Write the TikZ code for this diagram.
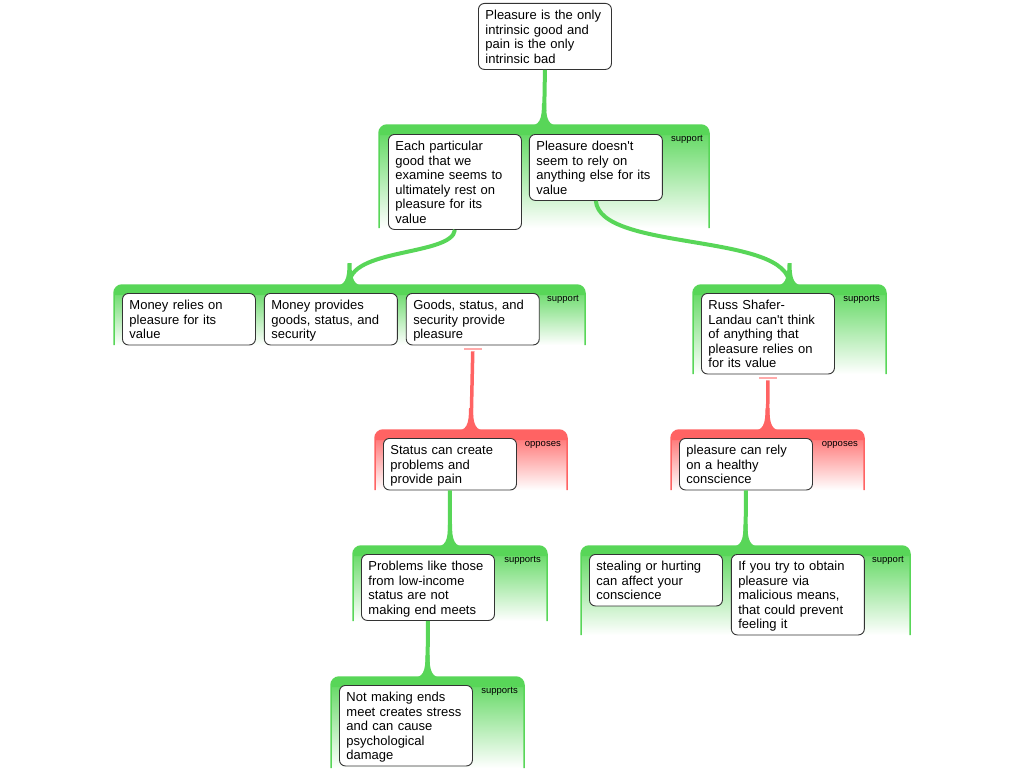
\documentclass[tikz,border=0pt]{standalone}
\usepackage{fontspec}
\setmainfont{Liberation Sans}
\usepackage{tikz}
\usetikzlibrary{positioning,calc}

\definecolor{supgreen}{RGB}{88,214,88}
\definecolor{oppred}{RGB}{255,99,99}
\definecolor{oppbar}{RGB}{255,170,170}

\tikzset{
	claim/.style={draw=black!80, line width=0.9pt, fill=white, rounded corners=6pt,
		text width=119pt, align=left, inner xsep=7pt, inner ysep=3pt,
		font=\fontsize{13}{14.5}\selectfont,
		execute at begin node={\rule{0pt}{13.5pt}},
		execute at end node={\rule[-3pt]{0pt}{3pt}}},
	grplabel/.style={font=\fontsize{9.5}{10}\selectfont, inner sep=0pt},
	sup/.style={supgreen, line width=4pt},
	opp/.style={oppred, line width=3.5pt},
	oppmark/.style={oppbar, line width=2pt},
	flare/.pic={\fill (-16,1) .. controls (-4,1) and (-2,-6) .. (-2,-22) -- (2,-22) .. controls (2,-6) and (4,1) .. (16,1) -- cycle;}
}

% group box: name, x1, y1, x2, y2, colour, label
\newcommand{\argroup}[7]{%
	\shadedraw[draw=#6, line width=1.5pt, rounded corners=8pt, top color=#6, bottom color=white] (#2,#5) -- (#2,#3) -- (#4,#3) -- (#4,#5);
	\fill[#6, rounded corners=8pt] (#2,#3+10) -- (#2,#3) -- (#4,#3) -- (#4,#3+10);
	\node[grplabel, anchor=base east] (#1Label) at (#4-6,#3+16) {#7};
	\coordinate (#1) at ({(#2+#4)/2},#3);
}

\begin{document}
\begin{tikzpicture}[x=1pt, y=-1pt] %
				\useasboundingbox (0,0) rectangle (1024,768);
				
				% Groups
				\argroup{SupA}{379}{125}{709}{228}{supgreen}{support}
				\argroup{SupB}{114}{285}{585}{345}{supgreen}{support}
				\argroup{SupC}{693}{285}{886}{374}{supgreen}{supports}
				\argroup{OppA}{375}{430}{567}{490}{oppred}{opposes}
				\argroup{OppB}{671}{430}{864}{490}{oppred}{opposes}
				\argroup{SupD}{353}{546}{547}{621}{supgreen}{supports}
				\argroup{SupE}{331}{677}{524}{768}{supgreen}{supports}
				\argroup{SupF}{581}{546}{910}{635}{supgreen}{support}
				
				% Claims
				\node[claim, anchor=north west] (Pleasure) at (478,3) {Pleasure is the only\\intrinsic good and\\pain is the only\\intrinsic bad};
				\node[claim, anchor=north west] (Particular) at (388,134) {Each particular\\good that we\\examine seems to\\ultimately rest on\\pleasure for its\\value};
				\node[claim, right=7pt of Particular.north east, anchor=north west] (Rely) {Pleasure doesn\textquotesingle t\\seem to rely on\\anything else for its\\value};
				\node[claim, anchor=north west] (MoneyRelies) at (122,293) {Money relies on\\pleasure for its\\value};
				\node[claim, right=8pt of MoneyRelies.north east, anchor=north west] (MoneyProvides) {Money provides\\goods, status, and\\security};
				\node[claim, right=8pt of MoneyProvides.north east, anchor=north west] (Goods) {Goods, status, and\\security provide\\pleasure};
				\node[claim, anchor=north west] (Russ) at (701,293) {Russ Shafer-\\Landau can\textquotesingle t think\\of anything that\\pleasure relies on\\for its value};
				\node[claim, anchor=north west] (Status) at (383,438) {Status can create\\problems and\\provide pain};
				\node[claim, anchor=north west] (Conscience) at (679,438) {pleasure can rely\\on a healthy\\conscience};
				\node[claim, anchor=north west] (Problems) at (361,554) {Problems like those\\from low-income\\status are not\\making end meets};
				\node[claim, anchor=north west] (Stress) at (339,685) {Not making ends\\meet creates stress\\and can cause\\psychological\\damage};
				\node[claim, anchor=north west] (Stealing) at (589,554) {stealing or hurting\\can affect your\\conscience};
				\node[claim, right=8pt of Stealing.north east, anchor=north west] (Malicious) {If you try to obtain\\pleasure via\\malicious means,\\that could prevent\\feeling it};
				
				% Links
				\draw[sup] (Pleasure.south) -- (SupA);
				\draw[sup] (Particular.south) .. controls (452,256) and (347,248) .. (SupB);
				\draw[sup] (Rely.south) .. controls (600,252) and (789.5,232) .. (SupC);
				\draw[sup] (Status.south) -- (SupD);
				\draw[sup] (Problems.south) -- (SupE);
				\draw[sup] (Conscience.south) -- (SupF);
				\draw[oppmark] ($(Goods.south)+(-9,4)$) -- ($(Goods.south)+(9,4)$);
				\draw[opp] ($(Goods.south)+(0,6)$) -- (OppA);
				\draw[oppmark] ($(Russ.south)+(-9,4)$) -- ($(Russ.south)+(9,4)$);
				\draw[opp] ($(Russ.south)+(0,6)$) -- (OppB);
				\foreach \g in {SupA,SupB,SupC,SupD,SupE,SupF}
					\pic[supgreen] at (\g) {flare};
				\foreach \g in {OppA,OppB}
					\pic[oppred] at (\g) {flare};
			\end{tikzpicture}
\end{document}
